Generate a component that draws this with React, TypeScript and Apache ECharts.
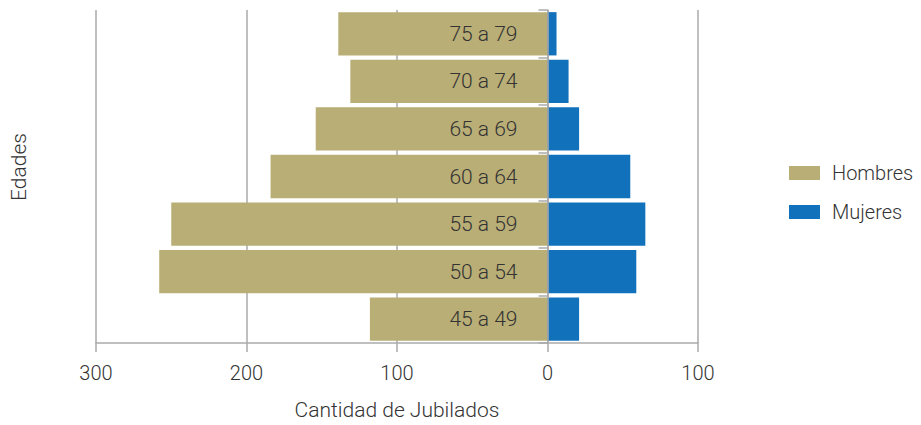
import React, { useEffect, useRef } from "react";
import * as echarts from "echarts";

const categories = ["45 a 49", "50 a 54", "55 a 59", "60 a 64", "65 a 69", "70 a 74", "75 a 79"];
const hombres = [118, 258, 250, 184, 154, 131, 139];
const mujeres = [21, 59, 65, 55, 21, 14, 6];
const seriesNames = ["Hombres", "Mujeres"];
const xTitle = "Cantidad de Jubilados";
const yTitle = "Edades";

const FONT = "Roboto";

export default function App() {
  const ref = useRef<HTMLDivElement>(null);
  useEffect(() => {
    if (!ref.current) return;
    const chart = echarts.init(ref.current, null, { renderer: "svg" });
    chart.setOption({
      animation: false,
      textStyle: { fontFamily: FONT },
      grid: { left: 96, right: 223, top: 10, bottom: 78, containLabel: false },
      legend: {
        orient: "vertical",
        left: 784,
        top: 158,
        itemWidth: 31,
        itemHeight: 14,
        itemGap: 19,
        icon: "rect",
        textStyle: { fontSize: 20, fontWeight: 300, color: "#333", fontFamily: FONT, padding: [0, 0, 0, 7] },
        data: seriesNames,
      },
      xAxis: {
        type: "value",
        min: -300,
        max: 100,
        interval: 100,
        name: xTitle,
        nameLocation: "middle",
        nameGap: 56,
        nameTextStyle: { fontSize: 21, fontWeight: 300, color: "#333", fontFamily: FONT },
        axisLine: { show: true, lineStyle: { color: "#aaa", width: 1.5 } },
        axisTick: { show: true, length: 9, lineStyle: { color: "#aaa", width: 1.5 } },
        axisLabel: {
          margin: 20,
          fontSize: 20,
          fontWeight: 300,
          color: "#333",
          fontFamily: FONT,
          formatter: (v: number) => String(Math.abs(v)),
        },
        splitLine: { show: true, lineStyle: { color: "#aaa", width: 1.5 } },
      },
      yAxis: {
        type: "category",
        data: categories,
        z: 5,
        axisLine: { show: true, onZero: true, lineStyle: { color: "#aaa", width: 1.5 } },
        axisTick: { show: true, length: 9, lineStyle: { color: "#aaa", width: 1.5 } },
        axisLabel: { show: false },
        splitLine: { show: false },
      },
      graphic: [
        {
          type: "text",
          x: 19,
          y: 167,
          rotation: Math.PI / 2,
          style: {
            text: yTitle,
            fontSize: 21,
            fontWeight: 300,
            fill: "#333",
            fontFamily: FONT,
            textAlign: "center",
            textVerticalAlign: "middle",
          },
        },
      ],
      series: [
        {
          name: seriesNames[0],
          type: "bar",
          stack: "total",
          barCategoryGap: "9%",
          itemStyle: { color: "#B9AE76" },
          label: {
            show: true,
            position: "insideRight",
            distance: 30,
            formatter: "{b}",
            fontSize: 21,
            fontWeight: 300,
            color: "#333",
            fontFamily: FONT,
          },
          data: hombres.map((v) => -v),
        },
        {
          name: seriesNames[1],
          type: "bar",
          stack: "total",
          barCategoryGap: "9%",
          itemStyle: { color: "#1172BB" },
          data: mujeres,
        },
      ],
    });
    return () => chart.dispose();
  }, []);
  return <div ref={ref} style={{ width: 921, height: 425, margin: -8 }} />;
}
